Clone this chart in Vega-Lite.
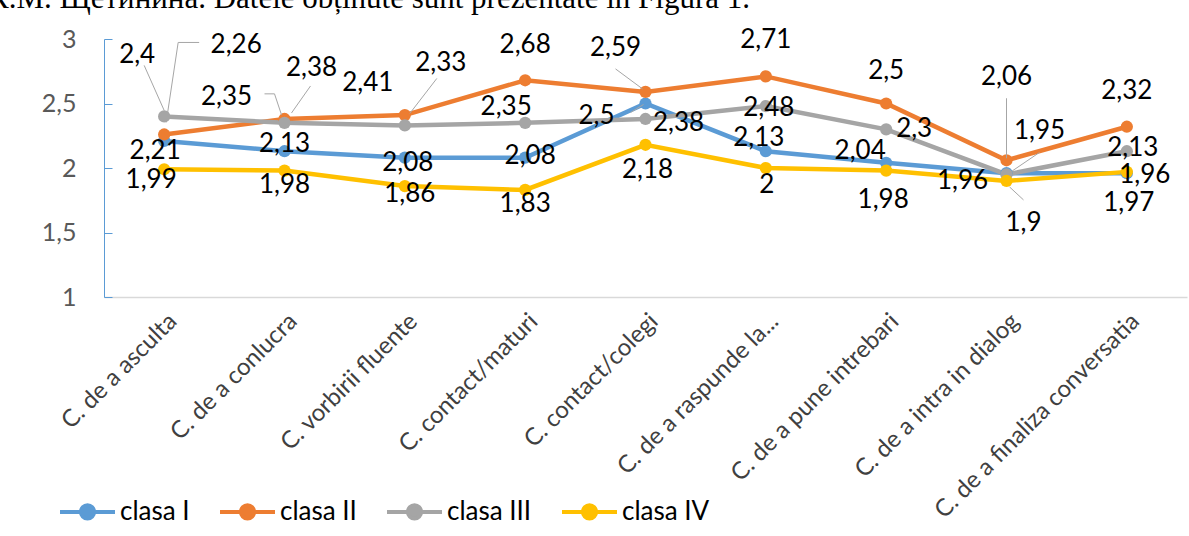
{
  "$schema": "https://vega.github.io/schema/vega-lite/v6.json",
  "width": 1083,
  "height": 258,
  "autosize": "none",
  "padding": {"left": 104, "top": 39, "right": 2, "bottom": 239},
  "background": "white",
  "title": {
    "text": "К.М. Щетинина. Datele obținute sunt prezentate în Figura 1.",
    "anchor": "start",
    "frame": "group",
    "font": "Liberation Serif",
    "fontSize": 31,
    "fontWeight": "normal",
    "color": "black",
    "baseline": "alphabetic",
    "offset": 0,
    "dx": -116,
    "dy": 12
  },
  "config": {
    "locale": {"number": {"decimal": ",", "thousands": ".", "grouping": [3], "currency": ["", " €"]}},
    "view": {"stroke": null},
    "font": "Lato",
    "text": {"fontSize": 26, "font": "Lato", "baseline": "middle", "color": "black"},
    "rule": {"color": "#A6A6A6", "strokeWidth": 1}
  },
  "data": {
    "values": [
      {"cat": "C. de a asculta", "series": "clasa I", "value": 2.21},
      {"cat": "C. de a conlucra", "series": "clasa I", "value": 2.13},
      {"cat": "C. vorbirii fluente", "series": "clasa I", "value": 2.08},
      {"cat": "C. contact/maturi", "series": "clasa I", "value": 2.08},
      {"cat": "C. contact/colegi", "series": "clasa I", "value": 2.5},
      {"cat": "C. de a raspunde la...", "series": "clasa I", "value": 2.13},
      {"cat": "C. de a pune intrebari", "series": "clasa I", "value": 2.04},
      {"cat": "C. de a intra in dialog", "series": "clasa I", "value": 1.96},
      {"cat": "C. de a finaliza conversatia", "series": "clasa I", "value": 1.96},
      {"cat": "C. de a asculta", "series": "clasa II", "value": 2.26},
      {"cat": "C. de a conlucra", "series": "clasa II", "value": 2.38},
      {"cat": "C. vorbirii fluente", "series": "clasa II", "value": 2.41},
      {"cat": "C. contact/maturi", "series": "clasa II", "value": 2.68},
      {"cat": "C. contact/colegi", "series": "clasa II", "value": 2.59},
      {"cat": "C. de a raspunde la...", "series": "clasa II", "value": 2.71},
      {"cat": "C. de a pune intrebari", "series": "clasa II", "value": 2.5},
      {"cat": "C. de a intra in dialog", "series": "clasa II", "value": 2.06},
      {"cat": "C. de a finaliza conversatia", "series": "clasa II", "value": 2.32},
      {"cat": "C. de a asculta", "series": "clasa III", "value": 2.4},
      {"cat": "C. de a conlucra", "series": "clasa III", "value": 2.35},
      {"cat": "C. vorbirii fluente", "series": "clasa III", "value": 2.33},
      {"cat": "C. contact/maturi", "series": "clasa III", "value": 2.35},
      {"cat": "C. contact/colegi", "series": "clasa III", "value": 2.38},
      {"cat": "C. de a raspunde la...", "series": "clasa III", "value": 2.48},
      {"cat": "C. de a pune intrebari", "series": "clasa III", "value": 2.3},
      {"cat": "C. de a intra in dialog", "series": "clasa III", "value": 1.95},
      {"cat": "C. de a finaliza conversatia", "series": "clasa III", "value": 2.13},
      {"cat": "C. de a asculta", "series": "clasa IV", "value": 1.99},
      {"cat": "C. de a conlucra", "series": "clasa IV", "value": 1.98},
      {"cat": "C. vorbirii fluente", "series": "clasa IV", "value": 1.86},
      {"cat": "C. contact/maturi", "series": "clasa IV", "value": 1.83},
      {"cat": "C. contact/colegi", "series": "clasa IV", "value": 2.18},
      {"cat": "C. de a raspunde la...", "series": "clasa IV", "value": 2},
      {"cat": "C. de a pune intrebari", "series": "clasa IV", "value": 1.98},
      {"cat": "C. de a intra in dialog", "series": "clasa IV", "value": 1.9},
      {"cat": "C. de a finaliza conversatia", "series": "clasa IV", "value": 1.97}
    ]
  },
  "encoding": {
    "x": {
      "field": "cat",
      "type": "nominal",
      "sort": ["C. de a asculta", "C. de a conlucra", "C. vorbirii fluente", "C. contact/maturi", "C. contact/colegi", "C. de a raspunde la...", "C. de a pune intrebari", "C. de a intra in dialog", "C. de a finaliza conversatia"],
      "scale": {"type": "point", "padding": 0.5},
      "axis": {
        "title": null,
        "labelAngle": -45,
        "labelAlign": "right",
        "labelBaseline": "top",
        "labelPadding": 12,
        "labelFontSize": 24,
        "labelColor": "#404040",
        "labelFont": "Lato",
        "ticks": false,
        "domainColor": "#D9D9D9",
        "domainWidth": 1.5,
        "labelLimit": 400,
        "grid": false
      }
    },
    "y": {
      "field": "value",
      "type": "quantitative",
      "scale": {"domain": [1, 3], "nice": false, "zero": false},
      "axis": {
        "title": null,
        "values": [1, 1.5, 2, 2.5, 3],
        "format": ".1~f",
        "grid": false,
        "domainColor": "#5B9BD5",
        "tickColor": "#5B9BD5",
        "tickSize": -8,
        "labelPadding": 36,
        "labelFontSize": 25,
        "labelColor": "#595959",
        "labelFont": "Lato"
      }
    },
    "color": {
      "field": "series",
      "type": "nominal",
      "scale": {"domain": ["clasa I", "clasa II", "clasa III", "clasa IV"], "range": ["#5B9BD5", "#ED7D31", "#A5A5A5", "#FFC000"]},
      "legend": {
        "title": null,
        "orient": "none",
        "direction": "horizontal",
        "legendX": -46,
        "legendY": 443,
        "symbolType": "M-1,0H1M-0.24,0A0.24,0.24,0,1,1,0.24,0A0.24,0.24,0,1,1,-0.24,0Z",
        "symbolSize": 3025,
        "symbolStrokeWidth": 4,
        "labelFontSize": 26,
        "labelFont": "Lato",
        "labelColor": "#000000",
        "labelOffset": 3,
        "columnPadding": 22,
        "encode": {"symbols": {"update": {"fill": {"scale": "color", "field": "value"}, "stroke": {"scale": "color", "field": "value"}, "opacity": {"value": 1}}}}
      }
    }
  },
  "layer": [
    {"mark": {"type": "line", "strokeWidth": 4.5}},
    {"mark": {"type": "point", "filled": true, "size": 150, "opacity": 1}},

    {"transform": [{"filter": "datum.series === 'clasa III' && datum.cat === 'C. de a asculta'"}], "mark": {"type": "rule", "xOffset": -20, "yOffset": -51, "x2Offset": 0, "y2Offset": -6}, "encoding": {"x2": {"field": "cat"}, "y2": {"field": "value"}, "color": {"value": "#A6A6A6"}}},
    {"transform": [{"filter": "datum.series === 'clasa II' && datum.cat === 'C. de a asculta'"}], "mark": {"type": "rule", "xOffset": 2, "yOffset": -12, "x2Offset": 14, "y2Offset": -92}, "encoding": {"x2": {"field": "cat"}, "y2": {"field": "value"}, "color": {"value": "#A6A6A6"}}},
    {"transform": [{"filter": "datum.series === 'clasa II' && datum.cat === 'C. de a asculta'"}], "mark": {"type": "rule", "xOffset": 14, "yOffset": -92, "x2Offset": 35, "y2Offset": -92}, "encoding": {"x2": {"field": "cat"}, "y2": {"field": "value"}, "color": {"value": "#A6A6A6"}}},
    {"transform": [{"filter": "datum.series === 'clasa III' && datum.cat === 'C. de a conlucra'"}], "mark": {"type": "rule", "xOffset": -20, "yOffset": -29, "x2Offset": -10, "y2Offset": -29}, "encoding": {"x2": {"field": "cat"}, "y2": {"field": "value"}, "color": {"value": "#A6A6A6"}}},
    {"transform": [{"filter": "datum.series === 'clasa III' && datum.cat === 'C. de a conlucra'"}], "mark": {"type": "rule", "xOffset": -10, "yOffset": -29, "x2Offset": -3, "y2Offset": -8}, "encoding": {"x2": {"field": "cat"}, "y2": {"field": "value"}, "color": {"value": "#A6A6A6"}}},
    {"transform": [{"filter": "datum.series === 'clasa II' && datum.cat === 'C. de a conlucra'"}], "mark": {"type": "rule", "xOffset": 26, "yOffset": -33, "x2Offset": 7, "y2Offset": -6}, "encoding": {"x2": {"field": "cat"}, "y2": {"field": "value"}, "color": {"value": "#A6A6A6"}}},
    {"transform": [{"filter": "datum.series === 'clasa III' && datum.cat === 'C. vorbirii fluente'"}], "mark": {"type": "rule", "xOffset": 32, "yOffset": -47, "x2Offset": 5, "y2Offset": -12}, "encoding": {"x2": {"field": "cat"}, "y2": {"field": "value"}, "color": {"value": "#A6A6A6"}}},
    {"transform": [{"filter": "datum.series === 'clasa II' && datum.cat === 'C. contact/colegi'"}], "mark": {"type": "rule", "xOffset": -30, "yOffset": -23, "x2Offset": -3, "y2Offset": -3}, "encoding": {"x2": {"field": "cat"}, "y2": {"field": "value"}, "color": {"value": "#A6A6A6"}}},
    {"transform": [{"filter": "datum.series === 'clasa I' && datum.cat === 'C. contact/colegi'"}], "mark": {"type": "rule", "xOffset": -15, "yOffset": 9, "x2Offset": -2, "y2Offset": 1}, "encoding": {"x2": {"field": "cat"}, "y2": {"field": "value"}, "color": {"value": "#A6A6A6"}}},
    {"transform": [{"filter": "datum.series === 'clasa II' && datum.cat === 'C. de a intra in dialog'"}], "mark": {"type": "rule", "xOffset": 0, "yOffset": -62, "x2Offset": 0, "y2Offset": -2}, "encoding": {"x2": {"field": "cat"}, "y2": {"field": "value"}, "color": {"value": "#A6A6A6"}}},
    {"transform": [{"filter": "datum.series === 'clasa III' && datum.cat === 'C. de a intra in dialog'"}], "mark": {"type": "rule", "xOffset": 33, "yOffset": -22, "x2Offset": 5, "y2Offset": -3}, "encoding": {"x2": {"field": "cat"}, "y2": {"field": "value"}, "color": {"value": "#A6A6A6"}}},
    {"transform": [{"filter": "datum.series === 'clasa IV' && datum.cat === 'C. de a intra in dialog'"}], "mark": {"type": "rule", "xOffset": 3, "yOffset": 6, "x2Offset": 17, "y2Offset": 19}, "encoding": {"x2": {"field": "cat"}, "y2": {"field": "value"}, "color": {"value": "#A6A6A6"}}},

    {"transform": [{"filter": "datum.series === 'clasa I' && datum.cat === 'C. de a asculta'"}], "mark": {"type": "text", "dx": -9, "dy": 10}, "encoding": {"text": {"field": "value", "type": "quantitative", "format": ".2~f"}, "color": {"value": "black"}}},
    {"transform": [{"filter": "datum.series === 'clasa I' && datum.cat === 'C. de a conlucra'"}], "mark": {"type": "text", "dx": 0, "dy": -7}, "encoding": {"text": {"field": "value", "type": "quantitative", "format": ".2~f"}, "color": {"value": "black"}}},
    {"transform": [{"filter": "datum.series === 'clasa I' && datum.cat === 'C. vorbirii fluente'"}], "mark": {"type": "text", "dx": 3, "dy": 5}, "encoding": {"text": {"field": "value", "type": "quantitative", "format": ".2~f"}, "color": {"value": "black"}}},
    {"transform": [{"filter": "datum.series === 'clasa I' && datum.cat === 'C. contact/maturi'"}], "mark": {"type": "text", "dx": 5, "dy": -2}, "encoding": {"text": {"field": "value", "type": "quantitative", "format": ".2~f"}, "color": {"value": "black"}}},
    {"transform": [{"filter": "datum.series === 'clasa I' && datum.cat === 'C. contact/colegi'"}], "mark": {"type": "text", "dx": -49, "dy": 12}, "encoding": {"text": {"field": "value", "type": "quantitative", "format": ".2~f"}, "color": {"value": "black"}}},
    {"transform": [{"filter": "datum.series === 'clasa I' && datum.cat === 'C. de a raspunde la...'"}], "mark": {"type": "text", "dx": -7, "dy": -13}, "encoding": {"text": {"field": "value", "type": "quantitative", "format": ".2~f"}, "color": {"value": "black"}}},
    {"transform": [{"filter": "datum.series === 'clasa I' && datum.cat === 'C. de a pune intrebari'"}], "mark": {"type": "text", "dx": -26, "dy": -12}, "encoding": {"text": {"field": "value", "type": "quantitative", "format": ".2~f"}, "color": {"value": "black"}}},
    {"transform": [{"filter": "datum.series === 'clasa I' && datum.cat === 'C. de a intra in dialog'"}], "mark": {"type": "text", "dx": -44, "dy": 8}, "encoding": {"text": {"field": "value", "type": "quantitative", "format": ".2~f"}, "color": {"value": "black"}}},
    {"transform": [{"filter": "datum.series === 'clasa I' && datum.cat === 'C. de a finaliza conversatia'"}], "mark": {"type": "text", "dx": 18, "dy": 2}, "encoding": {"text": {"field": "value", "type": "quantitative", "format": ".2~f"}, "color": {"value": "black"}}},

    {"transform": [{"filter": "datum.series === 'clasa II' && datum.cat === 'C. de a asculta'"}], "mark": {"type": "text", "dx": 72, "dy": -89}, "encoding": {"text": {"field": "value", "type": "quantitative", "format": ".2~f"}, "color": {"value": "black"}}},
    {"transform": [{"filter": "datum.series === 'clasa II' && datum.cat === 'C. de a conlucra'"}], "mark": {"type": "text", "dx": 27, "dy": -51}, "encoding": {"text": {"field": "value", "type": "quantitative", "format": ".2~f"}, "color": {"value": "black"}}},
    {"transform": [{"filter": "datum.series === 'clasa II' && datum.cat === 'C. vorbirii fluente'"}], "mark": {"type": "text", "dx": -37, "dy": -32}, "encoding": {"text": {"field": "value", "type": "quantitative", "format": ".2~f"}, "color": {"value": "black"}}},
    {"transform": [{"filter": "datum.series === 'clasa II' && datum.cat === 'C. contact/maturi'"}], "mark": {"type": "text", "dx": 0, "dy": -35}, "encoding": {"text": {"field": "value", "type": "quantitative", "format": ".2~f"}, "color": {"value": "black"}}},
    {"transform": [{"filter": "datum.series === 'clasa II' && datum.cat === 'C. contact/colegi'"}], "mark": {"type": "text", "dx": -30, "dy": -44}, "encoding": {"text": {"field": "value", "type": "quantitative", "format": ".2~f"}, "color": {"value": "black"}}},
    {"transform": [{"filter": "datum.series === 'clasa II' && datum.cat === 'C. de a raspunde la...'"}], "mark": {"type": "text", "dx": 0, "dy": -36}, "encoding": {"text": {"field": "value", "type": "quantitative", "format": ".2~f"}, "color": {"value": "black"}}},
    {"transform": [{"filter": "datum.series === 'clasa II' && datum.cat === 'C. de a pune intrebari'"}], "mark": {"type": "text", "dx": 0, "dy": -33}, "encoding": {"text": {"field": "value", "type": "quantitative", "format": ".2~f"}, "color": {"value": "black"}}},
    {"transform": [{"filter": "datum.series === 'clasa II' && datum.cat === 'C. de a intra in dialog'"}], "mark": {"type": "text", "dx": 0, "dy": -83}, "encoding": {"text": {"field": "value", "type": "quantitative", "format": ".2~f"}, "color": {"value": "black"}}},
    {"transform": [{"filter": "datum.series === 'clasa II' && datum.cat === 'C. de a finaliza conversatia'"}], "mark": {"type": "text", "dx": 0, "dy": -36}, "encoding": {"text": {"field": "value", "type": "quantitative", "format": ".2~f"}, "color": {"value": "black"}}},

    {"transform": [{"filter": "datum.series === 'clasa III' && datum.cat === 'C. de a asculta'"}], "mark": {"type": "text", "dx": -27, "dy": -61}, "encoding": {"text": {"field": "value", "type": "quantitative", "format": ".2~f"}, "color": {"value": "black"}}},
    {"transform": [{"filter": "datum.series === 'clasa III' && datum.cat === 'C. de a conlucra'"}], "mark": {"type": "text", "dx": -58, "dy": -26}, "encoding": {"text": {"field": "value", "type": "quantitative", "format": ".2~f"}, "color": {"value": "black"}}},
    {"transform": [{"filter": "datum.series === 'clasa III' && datum.cat === 'C. vorbirii fluente'"}], "mark": {"type": "text", "dx": 36, "dy": -62}, "encoding": {"text": {"field": "value", "type": "quantitative", "format": ".2~f"}, "color": {"value": "black"}}},
    {"transform": [{"filter": "datum.series === 'clasa III' && datum.cat === 'C. contact/maturi'"}], "mark": {"type": "text", "dx": -19, "dy": -16}, "encoding": {"text": {"field": "value", "type": "quantitative", "format": ".2~f"}, "color": {"value": "black"}}},
    {"transform": [{"filter": "datum.series === 'clasa III' && datum.cat === 'C. contact/colegi'"}], "mark": {"type": "text", "dx": 33, "dy": 4}, "encoding": {"text": {"field": "value", "type": "quantitative", "format": ".2~f"}, "color": {"value": "black"}}},
    {"transform": [{"filter": "datum.series === 'clasa III' && datum.cat === 'C. de a raspunde la...'"}], "mark": {"type": "text", "dx": 3, "dy": 2}, "encoding": {"text": {"field": "value", "type": "quantitative", "format": ".2~f"}, "color": {"value": "black"}}},
    {"transform": [{"filter": "datum.series === 'clasa III' && datum.cat === 'C. de a pune intrebari'"}], "mark": {"type": "text", "dx": 28, "dy": 0}, "encoding": {"text": {"field": "value", "type": "quantitative", "format": ".2~f"}, "color": {"value": "black"}}},
    {"transform": [{"filter": "datum.series === 'clasa III' && datum.cat === 'C. de a intra in dialog'"}], "mark": {"type": "text", "dx": 33, "dy": -43}, "encoding": {"text": {"field": "value", "type": "quantitative", "format": ".2~f"}, "color": {"value": "black"}}},
    {"transform": [{"filter": "datum.series === 'clasa III' && datum.cat === 'C. de a finaliza conversatia'"}], "mark": {"type": "text", "dx": 6, "dy": -3}, "encoding": {"text": {"field": "value", "type": "quantitative", "format": ".2~f"}, "color": {"value": "black"}}},

    {"transform": [{"filter": "datum.series === 'clasa IV' && datum.cat === 'C. de a asculta'"}], "mark": {"type": "text", "dx": -13, "dy": 11}, "encoding": {"text": {"field": "value", "type": "quantitative", "format": ".2~f"}, "color": {"value": "black"}}},
    {"transform": [{"filter": "datum.series === 'clasa IV' && datum.cat === 'C. de a conlucra'"}], "mark": {"type": "text", "dx": 0, "dy": 14}, "encoding": {"text": {"field": "value", "type": "quantitative", "format": ".2~f"}, "color": {"value": "black"}}},
    {"transform": [{"filter": "datum.series === 'clasa IV' && datum.cat === 'C. vorbirii fluente'"}], "mark": {"type": "text", "dx": 5, "dy": 8}, "encoding": {"text": {"field": "value", "type": "quantitative", "format": ".2~f"}, "color": {"value": "black"}}},
    {"transform": [{"filter": "datum.series === 'clasa IV' && datum.cat === 'C. contact/maturi'"}], "mark": {"type": "text", "dx": 0, "dy": 14}, "encoding": {"text": {"field": "value", "type": "quantitative", "format": ".2~f"}, "color": {"value": "black"}}},
    {"transform": [{"filter": "datum.series === 'clasa IV' && datum.cat === 'C. contact/colegi'"}], "mark": {"type": "text", "dx": 2, "dy": 25}, "encoding": {"text": {"field": "value", "type": "quantitative", "format": ".2~f"}, "color": {"value": "black"}}},
    {"transform": [{"filter": "datum.series === 'clasa IV' && datum.cat === 'C. de a raspunde la...'"}], "mark": {"type": "text", "dx": 1, "dy": 17}, "encoding": {"text": {"field": "value", "type": "quantitative", "format": ".2~f"}, "color": {"value": "black"}}},
    {"transform": [{"filter": "datum.series === 'clasa IV' && datum.cat === 'C. de a pune intrebari'"}], "mark": {"type": "text", "dx": -3, "dy": 29}, "encoding": {"text": {"field": "value", "type": "quantitative", "format": ".2~f"}, "color": {"value": "black"}}},
    {"transform": [{"filter": "datum.series === 'clasa IV' && datum.cat === 'C. de a intra in dialog'"}], "mark": {"type": "text", "dx": 17, "dy": 42}, "encoding": {"text": {"field": "value", "type": "quantitative", "format": ".2~f"}, "color": {"value": "black"}}},
    {"transform": [{"filter": "datum.series === 'clasa IV' && datum.cat === 'C. de a finaliza conversatia'"}], "mark": {"type": "text", "dx": 2, "dy": 31}, "encoding": {"text": {"field": "value", "type": "quantitative", "format": ".2~f"}, "color": {"value": "black"}}}
  ]
}
